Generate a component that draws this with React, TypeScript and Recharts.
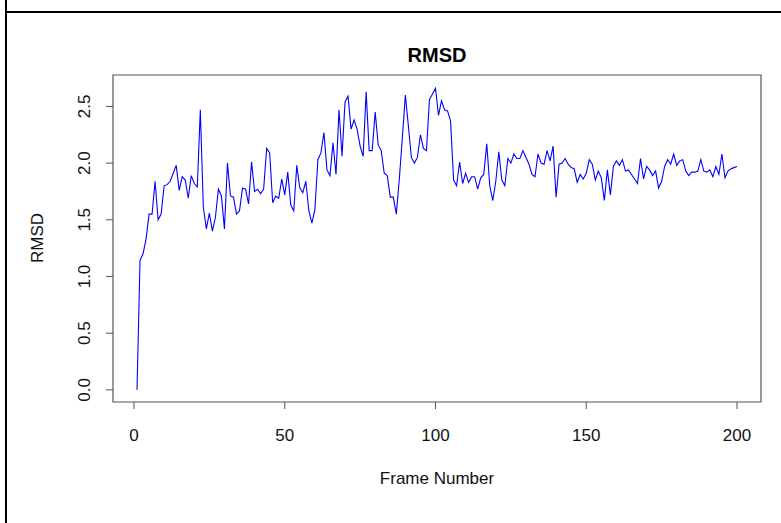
import { LineChart, Line, XAxis, YAxis, ReferenceArea, Label } from 'recharts';

// RMSD per frame, frames 1..200
const rmsd = [
  0.0, 1.14, 1.2, 1.33, 1.55, 1.55, 1.84, 1.5, 1.55, 1.8,
  1.81, 1.84, 1.91, 1.98, 1.76, 1.88, 1.85, 1.69, 1.89, 1.82,
  1.79, 2.47, 1.61, 1.42, 1.56, 1.4, 1.52, 1.77, 1.71, 1.42,
  2.0, 1.71, 1.7, 1.55, 1.58, 1.78, 1.77, 1.64, 2.01, 1.75,
  1.77, 1.73, 1.77, 2.13, 2.09, 1.65, 1.71, 1.69, 1.86, 1.72,
  1.92, 1.63, 1.58, 1.98, 1.78, 1.74, 1.84, 1.58, 1.47, 1.59,
  2.03, 2.09, 2.27, 1.94, 1.89, 2.18, 1.9, 2.47, 2.06, 2.54,
  2.59, 2.3, 2.38, 2.3, 2.15, 2.06, 2.63, 2.11, 2.11, 2.45,
  2.16, 2.11, 1.91, 1.89, 1.7, 1.7, 1.55, 1.86, 2.22, 2.6,
  2.33, 2.05, 2.0, 2.05, 2.25, 2.13, 2.11, 2.56, 2.61, 2.66,
  2.42, 2.55, 2.47, 2.46, 2.37, 1.85, 1.8, 2.01, 1.82, 1.91,
  1.83, 1.88, 1.88, 1.77, 1.87, 1.9, 2.17, 1.8, 1.67, 1.84,
  2.1, 1.85, 1.8, 2.04, 2.0, 2.08, 2.04, 2.04, 2.11, 2.05,
  1.99, 1.9, 1.88, 2.08, 2.0, 1.99, 2.11, 2.02, 2.15, 1.7,
  1.99, 2.0, 2.04, 1.99, 1.96, 1.95, 1.83, 1.9, 1.86, 1.91,
  2.03, 1.99, 1.85, 1.93, 1.87, 1.67, 1.94, 1.72, 1.97, 2.02,
  1.98, 2.03, 1.93, 1.94, 1.9, 1.86, 1.82, 2.04, 1.86, 1.97,
  1.94, 1.89, 1.93, 1.78, 1.84, 1.97, 2.03, 1.99, 2.08, 1.98,
  2.02, 2.03, 1.93, 1.89, 1.92, 1.92, 1.93, 2.03, 1.93, 1.92,
  1.94, 1.88, 1.97, 1.9, 2.08, 1.87, 1.93, 1.95, 1.96, 1.97,
];

const xTicks = [0, 50, 100, 150, 200];
const yTicks = [0, 0.5, 1, 1.5, 2, 2.5];

// R-style 4% axis extension
const xDomain = [-6.96, 207.96];
const yDomain = [-0.107, 2.777];

const data = rmsd.map((v, i) => ({ frame: i + 1, rmsd: v }));

const font = '"Liberation Sans", Arial, sans-serif';

const YTick = ({ x, y, payload }: any) => (
  <text
    x={x - 16}
    y={y}
    transform={`rotate(-90, ${x - 16}, ${y})`}
    textAnchor="middle"
    fontSize={17}
    fontFamily={font}
    fill="#111"
  >
    {payload.value.toFixed(1)}
  </text>
);

export default function App() {
  return (
    <div style={{ position: 'absolute', left: 0, top: 0, width: 781, height: 523, background: '#fff', overflow: 'hidden' }}>
      {/* frame lines from the screenshot */}
      <div style={{ position: 'absolute', left: 5, top: 0, width: 2, height: 523, background: '#000' }} />
      <div style={{ position: 'absolute', left: 5, top: 11, width: 776, height: 2, background: '#000' }} />

      <div
        style={{
          position: 'absolute', left: 337, width: 200, top: 43, textAlign: 'center',
          fontFamily: font, fontWeight: 'bold', fontSize: 20, color: '#000', lineHeight: '24px',
        }}
      >
        RMSD
      </div>

      <LineChart width={781} height={523} data={data} margin={{ top: 75, right: 20, bottom: 0, left: 0 }}>
        <XAxis
          dataKey="frame"
          type="number"
          domain={xDomain}
          ticks={xTicks}
          allowDataOverflow
          height={121}
          axisLine={false}
          tickSize={7}
          tickMargin={20}
          tickLine={{ stroke: '#555' }}
          tick={{ fontSize: 17, fontFamily: font, fill: '#111' }}
        >
          <Label
            content={() => (
              <text x={437} y={484} textAnchor="middle" fontSize={17} fontFamily={font} fill="#111">
                Frame Number
              </text>
            )}
          />
        </XAxis>
        <YAxis
          type="number"
          domain={yDomain}
          ticks={yTicks}
          allowDataOverflow
          width={113}
          axisLine={false}
          tickSize={7}
          tickMargin={0}
          tickLine={{ stroke: '#555' }}
          tick={<YTick />}
        >
          <Label
            content={() => (
              <text
                x={43}
                y={238}
                transform="rotate(-90, 43, 238)"
                textAnchor="middle"
                fontSize={17}
                fontFamily={font}
                fill="#111"
              >
                RMSD
              </text>
            )}
          />
        </YAxis>
        <ReferenceArea
          x1={xDomain[0]}
          x2={xDomain[1]}
          y1={yDomain[0]}
          y2={yDomain[1]}
          fill="none"
          stroke="#555"
          strokeWidth={1.2}
          ifOverflow="visible"
        />
        <Line
          type="linear"
          dataKey="rmsd"
          stroke="#0000ff"
          strokeWidth={1.1}
          dot={false}
          isAnimationActive={false}
        />
      </LineChart>
    </div>
  );
}
